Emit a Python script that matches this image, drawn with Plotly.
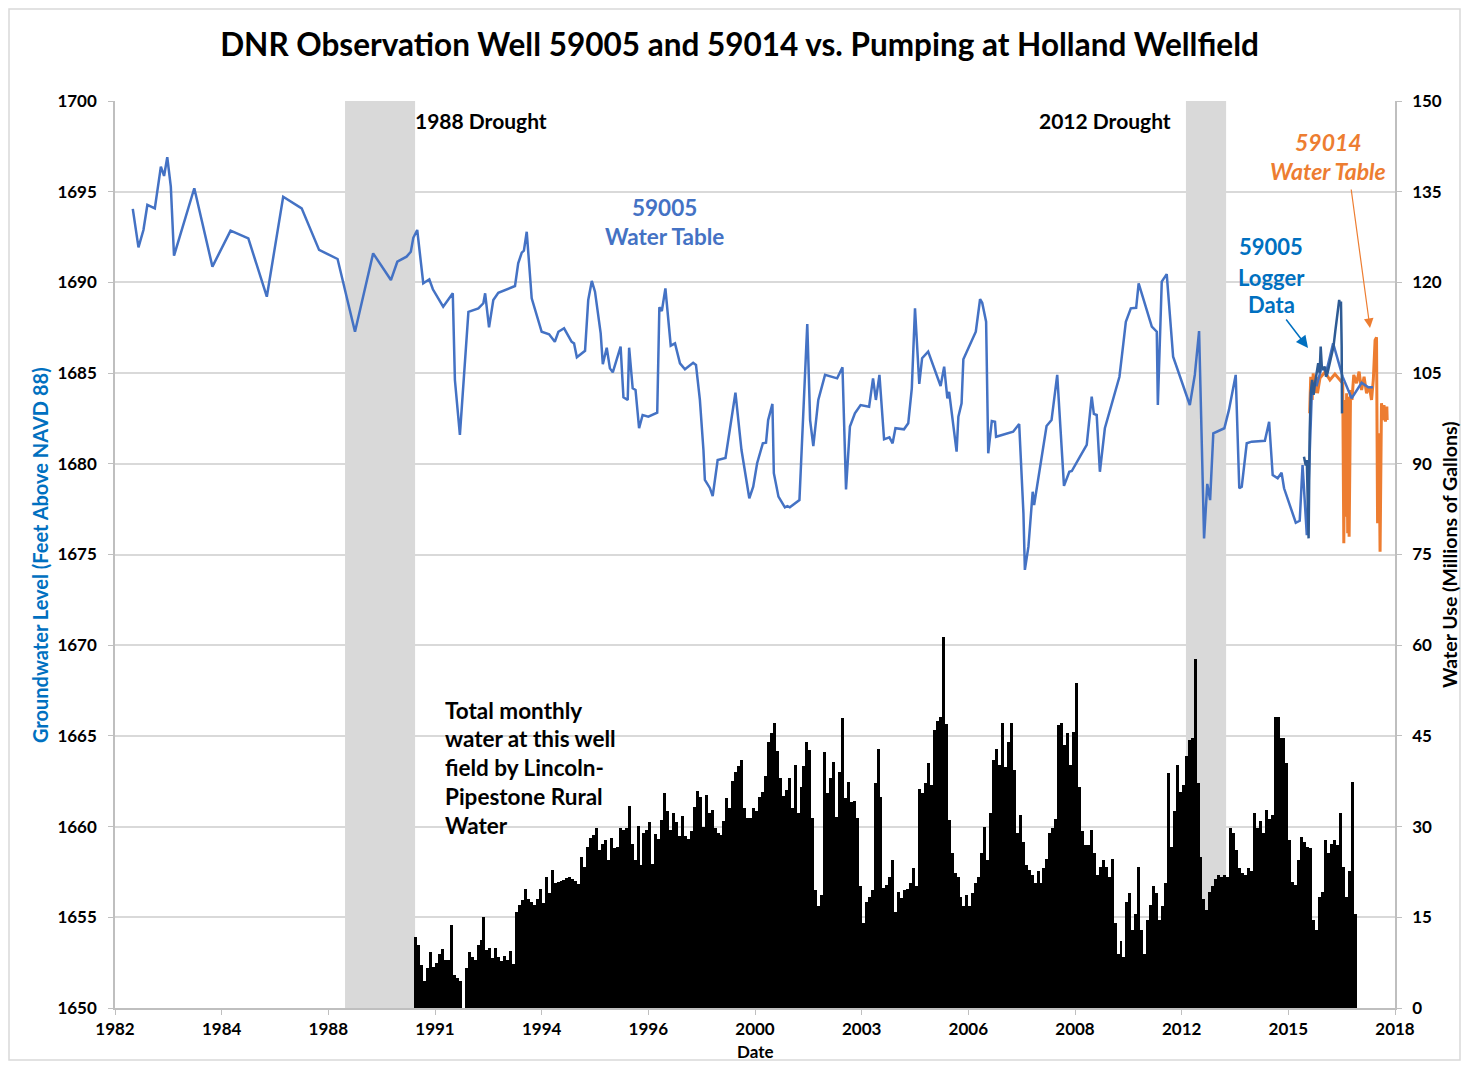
import plotly.graph_objects as go
from plotly.subplots import make_subplots

FONT = "Lato"

# x values are decimal years along the chart's time axis
x_tick_pos = [1982, 1985, 1988, 1991, 1994, 1997, 2000, 2003, 2006, 2009, 2012, 2015, 2018]
x_tick_text = ["1982", "1984", "1988", "1991", "1994", "1996", "2000",
               "2003", "2006", "2008", "2012", "2015", "2018"]

# DNR observation well 59005, periodic readings (ft above NAVD 88)
wt59005_year = [
    1982.50, 1982.66, 1982.80, 1982.91, 1983.12, 1983.29, 1983.38, 1983.47, 1983.57, 1983.66,
    1984.23, 1984.74, 1985.25, 1985.75, 1986.27, 1986.73, 1987.25, 1987.74, 1988.26, 1988.75,
    1989.26, 1989.76, 1989.94, 1990.20, 1990.32, 1990.39, 1990.50, 1990.67, 1990.84, 1990.94,
    1991.23, 1991.50, 1991.56, 1991.70, 1991.94, 1992.22, 1992.36, 1992.41, 1992.52, 1992.64,
    1992.78, 1992.97, 1993.25, 1993.34, 1993.44, 1993.50, 1993.58, 1993.72, 1994.00, 1994.21,
    1994.37, 1994.47, 1994.63, 1994.84, 1994.91, 1994.99, 1995.22, 1995.31, 1995.41, 1995.50,
    1995.66, 1995.72, 1995.83, 1995.92, 1996.00, 1996.22, 1996.30, 1996.42, 1996.46, 1996.56,
    1996.64, 1996.74, 1996.84, 1997.00, 1997.25, 1997.31, 1997.38, 1997.48, 1997.63, 1997.75,
    1997.89, 1998.03, 1998.26, 1998.34, 1998.45, 1998.55, 1998.59, 1998.73, 1998.81, 1998.95,
    1999.17, 1999.45, 1999.62, 1999.84, 1999.95, 2000.06, 2000.22, 2000.31, 2000.37, 2000.49,
    2000.53, 2000.66, 2000.84, 2000.91, 2000.98, 2001.25, 2001.47, 2001.55, 2001.64, 2001.78,
    2001.97, 2002.31, 2002.46, 2002.56, 2002.67, 2002.81, 2002.97, 2003.21, 2003.32, 2003.40,
    2003.50, 2003.63, 2003.78, 2003.87, 2003.95, 2004.19, 2004.31, 2004.41, 2004.50, 2004.62,
    2004.70, 2004.87, 2005.22, 2005.32, 2005.41, 2005.46, 2005.67, 2005.72, 2005.81, 2005.86,
    2006.21, 2006.33, 2006.39, 2006.50, 2006.56, 2006.66, 2006.75, 2006.78, 2007.26, 2007.43,
    2007.55, 2007.59, 2007.69, 2007.81, 2007.85, 2008.20, 2008.34, 2008.50, 2008.69, 2008.84,
    2008.91, 2009.14, 2009.33, 2009.47, 2009.53, 2009.61, 2009.70, 2009.84, 2010.25, 2010.36,
    2010.43, 2010.57, 2010.72, 2010.79, 2011.16, 2011.30, 2011.33, 2011.44, 2011.58, 2011.76,
    2012.23, 2012.37, 2012.49, 2012.63, 2012.72, 2012.80, 2012.89, 2013.20, 2013.33, 2013.52,
    2013.62, 2013.69, 2013.83, 2013.97, 2014.34, 2014.46, 2014.56, 2014.70, 2014.81, 2014.88,
    2015.21, 2015.32, 2015.40, 2015.52, 2015.67, 2015.80, 2015.94, 2016.08, 2016.26, 2016.53,
    2016.78, 2017.06, 2017.25, 2017.38,
]
wt59005_level = [
    1694.05, 1691.93, 1692.89, 1694.27, 1694.08, 1696.38, 1695.87, 1696.90, 1695.28, 1691.47,
    1695.19, 1690.87, 1692.85, 1692.43, 1689.21, 1694.72, 1694.08, 1691.79, 1691.29, 1687.28,
    1691.60, 1690.13, 1691.14, 1691.42, 1691.69, 1692.46, 1692.89, 1689.95, 1690.17, 1689.62,
    1688.66, 1689.40, 1684.62, 1681.59, 1688.38, 1688.57, 1688.85, 1689.40, 1687.52, 1689.03,
    1689.43, 1689.58, 1689.80, 1691.05, 1691.64, 1691.75, 1692.79, 1689.12, 1687.28, 1687.14,
    1686.73, 1687.28, 1687.47, 1686.73, 1686.64, 1685.87, 1686.23, 1689.03, 1690.08, 1689.49,
    1687.19, 1685.49, 1686.40, 1685.26, 1685.04, 1686.46, 1683.67, 1683.52, 1686.40, 1684.16,
    1684.07, 1681.96, 1682.69, 1682.60, 1682.82, 1688.63, 1688.42, 1689.67, 1686.51, 1686.64,
    1685.54, 1685.21, 1685.57, 1685.45, 1683.52, 1680.76, 1679.11, 1678.67, 1678.22, 1680.21,
    1680.32, 1683.92, 1680.76, 1678.10, 1678.74, 1680.03, 1681.13, 1681.16, 1682.41, 1683.30,
    1679.48, 1678.19, 1677.60, 1677.67, 1677.60, 1678.00, 1687.71, 1682.41, 1680.98, 1683.52,
    1684.90, 1684.71, 1685.32, 1678.59, 1682.05, 1682.78, 1683.24, 1683.15, 1684.71, 1683.52,
    1684.90, 1681.35, 1681.46, 1681.13, 1681.96, 1681.90, 1682.23, 1684.16, 1688.57, 1684.40,
    1685.82, 1686.18, 1684.29, 1685.35, 1683.61, 1683.97, 1680.67, 1682.60, 1683.34, 1685.76,
    1687.28, 1689.07, 1688.88, 1687.83, 1680.58, 1682.36, 1682.32, 1681.49, 1681.77, 1682.19,
    1677.27, 1674.15, 1675.43, 1678.46, 1677.73, 1682.08, 1682.41, 1684.90, 1678.78, 1679.56,
    1679.60, 1680.39, 1681.04, 1683.70, 1682.75, 1682.69, 1679.56, 1681.96, 1684.80, 1686.64,
    1687.83, 1688.57, 1688.60, 1689.95, 1687.56, 1687.28, 1683.24, 1690.04, 1690.46, 1685.90,
    1683.24, 1684.90, 1687.32, 1675.89, 1678.89, 1678.00, 1681.68, 1681.96, 1682.97, 1684.90,
    1678.65, 1678.74, 1681.13, 1681.22, 1681.27, 1682.32, 1679.38, 1679.20, 1679.51, 1678.65,
    1676.75, 1676.86, 1679.93, 1676.07, 1684.44, 1684.34, 1685.34, 1685.17, 1686.64, 1684.79,
    1683.61, 1684.47, 1684.22, 1684.22,
]

# 59005 logger record
logger_year = [
    2015.44, 2015.49, 2015.52, 2015.55, 2015.57, 2015.60, 2015.63, 2015.67, 2015.71, 2015.75,
    2015.80, 2015.84, 2015.88, 2015.91, 2015.94, 2015.97, 2016.03, 2016.06, 2016.10, 2016.17,
    2016.22, 2016.27, 2016.32, 2016.36, 2016.43, 2016.46, 2016.48, 2016.50, 2016.51,
]
logger_level = [
    1680.39, 1679.90, 1680.21, 1677.00, 1675.89, 1681.68, 1683.90, 1684.62, 1683.80, 1684.44,
    1685.20, 1685.54, 1685.00, 1686.46, 1685.40, 1685.17, 1685.35, 1684.80, 1684.99, 1685.54,
    1686.10, 1686.46, 1687.30, 1687.93, 1689.03, 1688.70, 1688.94, 1686.50, 1682.78,
]

# 59014 water table
wt59014_year = [
    2015.60, 2015.63, 2015.67, 2015.70, 2015.75, 2015.79, 2015.82, 2015.89, 2016.03, 2016.17,
    2016.31, 2016.46, 2016.53, 2016.56, 2016.59, 2016.61, 2016.64, 2016.67, 2016.69, 2016.71,
    2016.75, 2016.79, 2016.84, 2016.92, 2016.99, 2017.06, 2017.13, 2017.20, 2017.28, 2017.34,
    2017.39, 2017.44, 2017.48, 2017.51, 2017.55, 2017.58, 2017.62, 2017.66, 2017.69, 2017.73,
    2017.77, 2017.78,
]
wt59014_level = [
    1682.78, 1684.80, 1683.52, 1684.99, 1683.89, 1684.80, 1683.89, 1684.73, 1685.06, 1684.62,
    1684.95, 1684.62, 1684.44, 1675.62, 1683.52, 1677.08, 1683.89, 1676.17, 1683.70, 1675.98,
    1684.07, 1683.52, 1684.90, 1684.44, 1685.08, 1684.07, 1684.80, 1683.89, 1684.25, 1683.52,
    1684.62, 1686.82, 1686.97, 1676.72, 1681.68, 1675.15, 1683.34, 1682.41, 1683.24, 1682.32,
    1683.15, 1682.41,
]

# Total monthly pumping, Holland wellfield (millions of gallons), one value per month
pump_start = 1990.46
pump_mgal = [
    11.8, 10.4, 7.1, 4.4, 6.6, 9.3, 6.8, 7.4, 9.0, 9.7, 7.9, 8.0,
    13.7, 5.5, 4.9, 4.4, 0, 6.6, 9.3, 8.5, 7.9, 10.4, 11.2, 15.0,
    9.6, 9.9, 8.2, 9.9, 8.5, 7.7, 8.6, 7.9, 9.5, 7.3, 15.9, 17.0,
    17.9, 19.6, 18.1, 17.5, 17.0, 18.1, 19.6, 17.3, 21.7, 19.0, 22.8, 20.6,
    20.9, 21.0, 21.2, 21.5, 21.7, 21.3, 21.0, 20.5, 25.0, 23.4, 26.7, 28.1,
    28.6, 29.7, 26.1, 27.2, 27.8, 24.5, 28.1, 26.4, 26.7, 29.7, 29.4, 29.8,
    33.4, 27.2, 24.5, 30.1, 23.6, 29.0, 29.5, 30.8, 23.8, 28.8, 27.9, 31.1,
    35.5, 32.5, 29.4, 32.2, 30.8, 28.4, 31.8, 28.4, 27.9, 29.3, 33.3, 35.9,
    34.9, 30.0, 35.2, 32.2, 32.7, 29.7, 29.0, 28.6, 31.0, 34.7, 33.0, 37.5,
    39.0, 40.0, 41.0, 33.0, 31.5, 31.5, 33.0, 32.5, 34.9, 35.8, 38.3, 44.0,
    45.4, 47.1, 42.5, 38.0, 35.0, 36.0, 38.0, 33.0, 40.2, 32.2, 36.6, 40.0,
    44.0, 42.7, 31.4, 19.5, 16.8, 18.7, 42.4, 35.5, 38.0, 40.7, 31.6, 39.1,
    47.9, 34.7, 37.4, 34.1, 34.2, 31.4, 20.1, 14.0, 17.6, 18.4, 19.5, 37.2,
    42.9, 34.9, 19.8, 20.3, 21.7, 24.5, 15.9, 19.2, 18.2, 19.5, 19.6, 20.6,
    23.1, 20.1, 36.3, 35.5, 37.2, 40.6, 36.9, 46.0, 47.4, 48.2, 61.4, 47.0,
    31.1, 25.6, 22.3, 21.7, 18.4, 16.8, 18.7, 16.8, 19.0, 20.6, 21.7, 25.6,
    30.0, 24.5, 32.2, 41.0, 42.9, 40.2, 47.1, 39.9, 44.0, 47.1, 39.4, 28.9,
    31.9, 27.5, 23.6, 22.8, 22.0, 20.6, 22.6, 20.6, 23.1, 24.7, 28.9, 29.8,
    31.2, 46.8, 47.1, 43.5, 45.4, 40.2, 45.7, 53.7, 36.6, 29.3, 27.0, 27.0,
    29.5, 25.6, 22.0, 23.4, 24.5, 23.4, 21.7, 24.7, 14.0, 9.0, 11.0, 8.5,
    17.6, 19.0, 12.9, 15.6, 23.4, 12.9, 9.0, 14.5, 17.0, 20.1, 19.0, 14.5,
    16.8, 20.6, 38.8, 26.7, 32.5, 40.2, 35.8, 36.9, 41.6, 44.3, 44.6, 57.8,
    37.2, 25.0, 18.1, 16.2, 19.2, 20.1, 21.4, 22.0, 21.7, 22.0, 21.7, 29.8,
    28.9, 26.2, 23.1, 22.3, 22.0, 23.1, 22.6, 32.2, 29.8, 30.9, 28.9, 32.7,
    31.3, 31.9, 48.2, 48.2, 44.6, 44.6, 40.5, 27.8, 20.9, 20.4, 24.5, 28.3,
    27.5, 26.6, 26.4, 14.5, 12.9, 18.4, 19.2, 27.8, 25.6, 27.2, 27.8, 27.0,
    32.2, 23.4, 18.4, 22.6, 37.4, 15.6,
]
pump_year = [pump_start + i / 12 for i in range(len(pump_mgal))]

drought_periods = [(1988.47, 1990.44), (2012.12, 2013.25)]

# Layout is worked out in reference-image pixels. The page adds an 8 px body
# margin on every side, so the figure is sized to fit inside the window.
PAGE = 8
W, H = 1469 - 2 * PAGE, 1070 - 2 * PAGE
PL, PR, PT, PB = 115, 1395, 101, 1008


def paper(xp, yp):
    return (xp - PL) / (PR - PL), (PB - yp) / (PB - PT)


fig = make_subplots(specs=[[{"secondary_y": True}]])

fig.add_trace(go.Bar(
    x=pump_year, y=pump_mgal, width=1 / 12,
    marker=dict(color="black", line=dict(width=0)),
    name="Total monthly water"
), secondary_y=True)

fig.add_trace(go.Scatter(
    x=wt59014_year, y=wt59014_level, mode="lines",
    line=dict(color="#ED7D31", width=3), name="59014 Water Table"
), secondary_y=False)

fig.add_trace(go.Scatter(
    x=wt59005_year, y=wt59005_level, mode="lines",
    line=dict(color="#4472C4", width=2.5), name="59005 Water Table"
), secondary_y=False)

fig.add_trace(go.Scatter(
    x=logger_year, y=logger_level, mode="lines",
    line=dict(color="#2E5B94", width=2.5), name="59005 Logger Data"
), secondary_y=False)

for x0, x1 in drought_periods:
    fig.add_shape(type="rect", xref="x", yref="paper", x0=x0, x1=x1, y0=0, y1=1,
                  fillcolor="#D9D9D9", line=dict(width=0), layer="between")

# outer chart border
bx0, by0 = paper(9, 1060)
bx1, by1 = paper(1460, 9)
fig.add_shape(type="rect", xref="paper", yref="paper", x0=bx0, x1=bx1, y0=by0, y1=by1,
              line=dict(color="#D9D9D9", width=1.5), fillcolor="rgba(0,0,0,0)", layer="below")


def label(xp, yp, text, color="black", size=22, anchor="center", weight="bold", angle=0):
    px_, py_ = paper(xp, yp)
    fig.add_annotation(x=px_, y=py_, xref="paper", yref="paper", text=text,
                       showarrow=False, xanchor=anchor, yanchor="middle", textangle=angle,
                       font=dict(family=FONT, size=size, color=color, weight=weight))


label(413, 120, "1988 Drought", size=21, anchor="left")
label(1173, 120, "2012 Drought", size=21, anchor="right")
label(664, 207, "59005", color="#4472C4", size=22.5)
label(664, 236, "Water Table", color="#4472C4", size=22.5)
label(1271, 247, "59005", color="#0070C0")
label(1271, 277, "Logger", color="#0070C0")
label(1271, 305, "Data", color="#0070C0")
label(1328, 142, "<i>59014</i>", color="#ED7D31", size=23)
label(1328, 171, "<i>Water Table</i>", color="#ED7D31", size=23)
for i, line in enumerate(["Total monthly", "water at this well", "field by Lincoln-",
                          "Pipestone Rural", "Water"]):
    label(443, 710 + i * 28.8, line, size=22.5, anchor="left")

# arrows
for head, tail, col, w in [((1308, 348), (1285, 318), "#0070C0", 1.5),
                           ((1370, 328), (1351, 188), "#ED7D31", 1.2)]:
    hx, hy = paper(*head)
    fig.add_annotation(x=hx, y=hy, xref="paper", yref="paper", text="",
                       showarrow=True, ax=tail[0] - head[0], ay=tail[1] - head[1],
                       arrowhead=2, arrowsize=1.6, arrowwidth=w, arrowcolor=col)

# axis titles
label(40, 555, "Groundwater Level (Feet Above NAVD 88)", color="#0070C0", size=20, angle=-90)
label(1449, 555, "Water Use (Millions of Gallons)", size=19.5, angle=-90)
label(755, 1051, "Date", size=17)

tick_font = dict(family=FONT, size=17, color="black", weight="bold")
fig.update_xaxes(range=[1982, 2018], domain=[0, 1], tickvals=x_tick_pos, ticktext=x_tick_text,
                 showgrid=False, zeroline=False, showline=True, linecolor="#BFBFBF", linewidth=1.5,
                 ticks="outside", ticklen=5, tickcolor="#BFBFBF", tickfont=tick_font,
                 ticklabelstandoff=0)
fig.update_yaxes(range=[1650, 1700], tick0=1650, dtick=5, tickformat="d",
                 showgrid=True, gridcolor="#D9D9D9", gridwidth=1.5, zeroline=False,
                 showline=True, linecolor="#BFBFBF", linewidth=1.5,
                 ticks="outside", ticklen=5, tickcolor="#BFBFBF", tickfont=tick_font,
                 ticklabelstandoff=8, secondary_y=False)
fig.update_yaxes(range=[0, 150], tick0=0, dtick=15, showgrid=False, zeroline=False,
                 showline=True, linecolor="#BFBFBF", linewidth=1.5,
                 ticks="outside", ticklen=5, tickcolor="#BFBFBF", tickfont=tick_font,
                 ticklabelstandoff=7, secondary_y=True)

fig.update_layout(
    width=W, height=H,
    margin=dict(l=PL - PAGE, r=W + PAGE - PR, t=PT - PAGE, b=H + PAGE - PB, autoexpand=False),
    plot_bgcolor="white", paper_bgcolor="white",
    showlegend=False, bargap=0,
    font=dict(family=FONT, color="black"),
    title=dict(text="DNR Observation Well 59005 and 59014 vs. Pumping at Holland Wellfield",
               x=(739.5 - PAGE) / W, xref="container", xanchor="center",
               y=1 - (45 - PAGE) / H, yref="container", yanchor="middle",
               font=dict(family=FONT, size=31.5, color="black", weight="bold")),
)

fig.write_html("out.html")
